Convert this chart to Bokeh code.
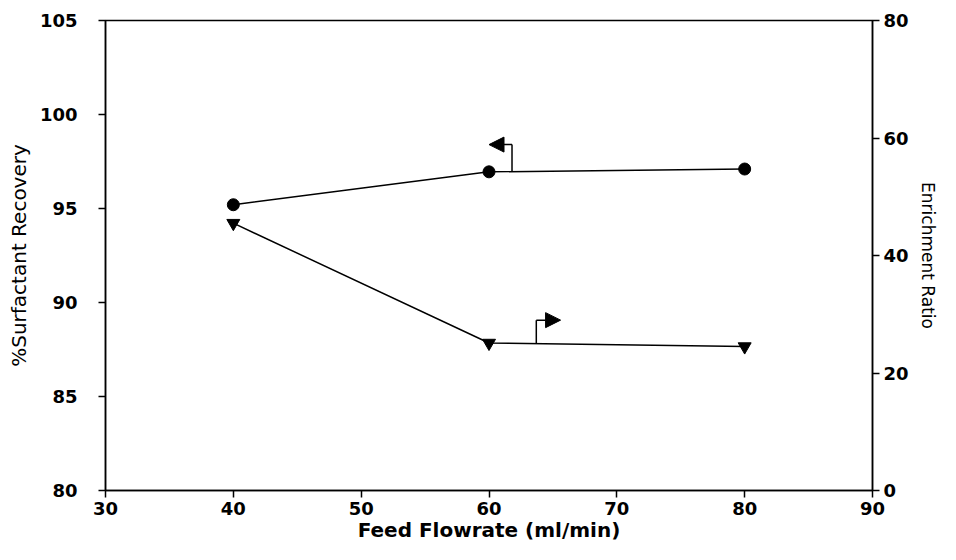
from bokeh.plotting import figure
from bokeh.models import LinearAxis, Range1d, Arrow, NormalHead, FixedTicker
from bokeh.embed import file_html
from bokeh.resources import INLINE
import numpy as np

# ---- data ----
flow = [40, 60, 80]
recovery = [95.2, 96.95, 97.1]        # left axis, circles
enrichment = [45.5, 25.1, 24.5]       # right axis, inverted triangles

x_ticks = [30, 40, 50, 60, 70, 80, 90]
left_ticks = [80, 85, 90, 95, 100, 105]
right_ticks = [0, 20, 40, 60, 80]

# axis-indicator arrows (x of the riser, top of the riser, tip of the head)
rec_arrow_x, rec_arrow_top, rec_arrow_tip = 61.8, 98.4, 60.0
enr_arrow_x, enr_arrow_top, enr_arrow_tip = 63.7, 29.0, 65.6

FONT = "DejaVu Sans"

p = figure(width=940, height=544, output_backend="svg", toolbar_location=None,
           x_range=Range1d(30, 90), y_range=Range1d(80, 105),
           min_border_left=105, min_border_right=68, min_border_top=20, min_border_bottom=53,
           background_fill_color="white", border_fill_color="white")
p.extra_y_ranges = {"right": Range1d(0, 80)}
p.xgrid.visible = False
p.ygrid.visible = False
p.outline_line_color = "black"
p.outline_line_width = 1.5


def style(ax, ticks):
    ax.ticker = FixedTicker(ticks=ticks)
    ax.axis_line_color = "black"
    ax.axis_line_width = 1.5
    ax.major_tick_line_color = "black"
    ax.major_tick_line_width = 1.5
    ax.major_tick_out = 7
    ax.major_tick_in = 0
    ax.minor_tick_line_color = None
    ax.major_label_text_font = FONT
    ax.major_label_text_font_style = "bold"
    ax.major_label_text_font_size = "18px"
    ax.major_label_text_color = "black"
    ax.axis_label_text_font = FONT
    ax.axis_label_text_color = "black"


xa = p.xaxis[0]
style(xa, x_ticks)
xa.axis_label = "Feed Flowrate (ml/min)"
xa.axis_label_text_font_style = "bold"
xa.axis_label_text_font_size = "20px"
xa.major_label_standoff = 4
xa.axis_label_standoff = 0

ya = p.yaxis[0]
style(ya, left_ticks)
ya.axis_label = "%Surfactant Recovery"
ya.axis_label_text_font_style = "normal"
ya.axis_label_text_font_size = "20px"
ya.major_label_standoff = 21
ya.axis_label_standoff = 6

ra = LinearAxis(y_range_name="right")
style(ra, right_ticks)
ra.axis_label = "Enrichment Ratio"
ra.axis_label_text_font_style = "normal"
ra.axis_label_text_font_size = "17px"
ra.major_label_standoff = 4
ra.axis_label_standoff = 6
p.add_layout(ra, "right")

# series
p.line(flow, recovery, line_color="black", line_width=1.5)
p.scatter(flow, recovery, marker="circle", size=12, fill_color="black", line_color="black")

p.line(flow, enrichment, line_color="black", line_width=1.5, y_range_name="right")
p.scatter(flow, enrichment, marker="inverted_triangle", size=13, fill_color="black",
          line_color="black", y_range_name="right")

# axis indicator arrows
rec_base = float(np.interp(rec_arrow_x, flow, recovery))
p.segment(x0=[rec_arrow_x], y0=[rec_base], x1=[rec_arrow_x], y1=[rec_arrow_top],
          line_color="black", line_width=1.5)
p.add_layout(Arrow(x_start=rec_arrow_x, y_start=rec_arrow_top, x_end=rec_arrow_tip, y_end=rec_arrow_top,
                   line_color="black", line_width=1.5,
                   end=NormalHead(size=15, fill_color="black", line_color="black")))

enr_base = float(np.interp(enr_arrow_x, flow, enrichment))
p.segment(x0=[enr_arrow_x], y0=[enr_base], x1=[enr_arrow_x], y1=[enr_arrow_top],
          line_color="black", line_width=1.5, y_range_name="right")
p.add_layout(Arrow(x_start=enr_arrow_x, y_start=enr_arrow_top, x_end=enr_arrow_tip, y_end=enr_arrow_top,
                   line_color="black", line_width=1.5, y_range_name="right",
                   end=NormalHead(size=15, fill_color="black", line_color="black")))

open("out.html", "w").write(file_html(p, INLINE))
